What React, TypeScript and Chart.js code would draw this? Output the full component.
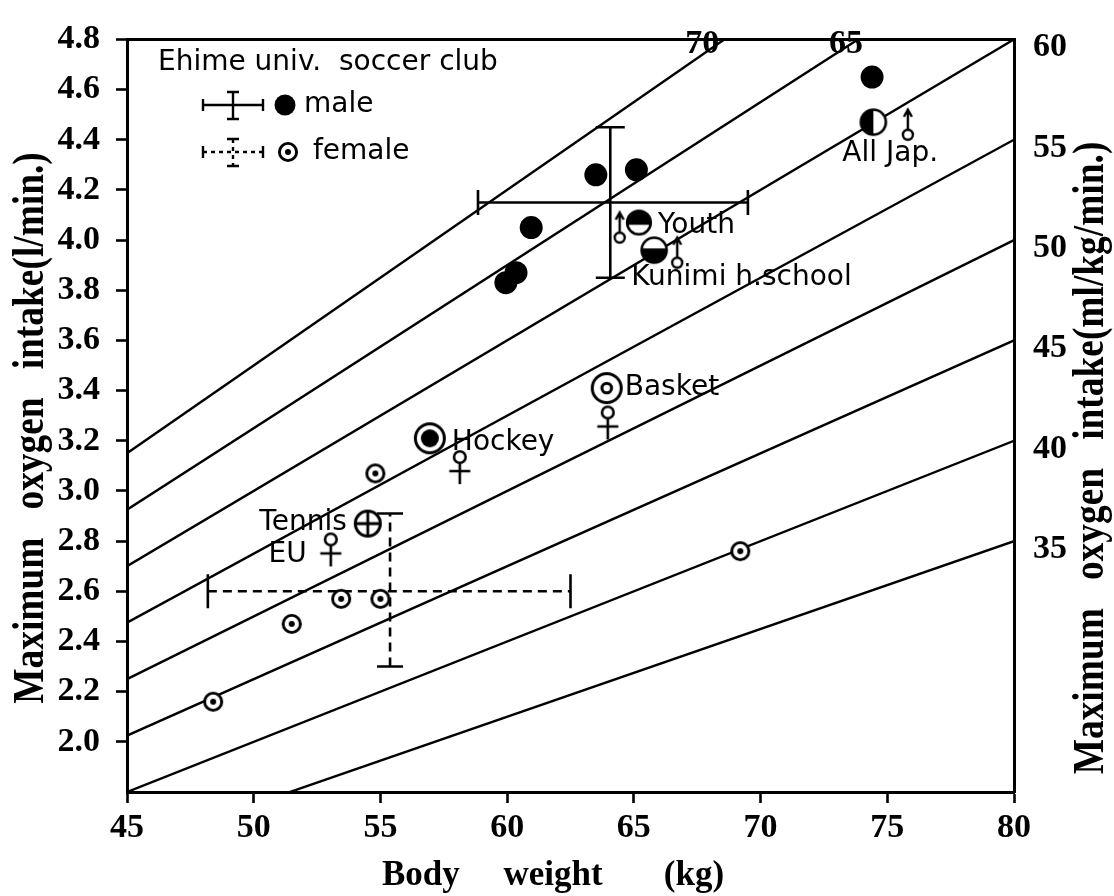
import React, { useEffect, useRef } from 'react';
import { Chart, registerables } from 'chart.js';

Chart.register(...registerables);

// ---------------- data ----------------
const weightTicks = [45, 50, 55, 60, 65, 70, 75, 80];
const vo2Ticks = [2.0, 2.2, 2.4, 2.6, 2.8, 3.0, 3.2, 3.4, 3.6, 3.8, 4.0, 4.2, 4.4, 4.6, 4.8];
const vo2Min = 1.8;
const vo2Max = 4.8;
// iso-lines of relative maximum oxygen intake (ml/kg/min)
const isoValues = [35, 40, 45, 50, 55, 60, 65, 70];
const isoTopLabels = ['70', '65'];
const relTickLabels = ['35', '40', '45', '50', '55', '60'];

// Ehime univ. soccer club
const maleWeight = [59.95, 60.35, 60.95, 63.5, 65.1, 74.4];
const maleVO2 = [3.83, 3.87, 4.05, 4.26, 4.28, 4.65];
const femaleWeight = [48.4, 51.5, 53.45, 55.0, 54.8, 69.2];
const femaleVO2 = [2.16, 2.47, 2.57, 2.57, 3.07, 2.76];

// reference groups
const groupNames = ['Youth', 'Kunimi h.school', 'All Jap.', 'Hockey', 'Basket', 'Tennis'];
const groupWeight = [65.2, 65.8, 74.45, 56.95, 63.93, 54.5];
const groupVO2 = [4.07, 3.96, 4.47, 3.21, 3.41, 2.87];

// sex signs of reference groups
const maleSignWeight = [64.44, 66.71, 75.81];
const maleSignVO2 = [4.01, 3.91, 4.42];
const femaleSignWeight = [58.13, 63.97, 53.04];
const femaleSignVO2 = [3.135, 3.313, 2.807];
const femaleSignNames = ['', '', 'EU'];

// mean ± SD
const maleMean = [64.07, 4.15];
const maleWeightRange = [58.85, 69.5];
const maleVO2Range = [3.85, 4.45];
const femaleMean = [55.38, 2.6];
const femaleWeightRange = [48.19, 62.5];
const femaleVO2Range = [2.3, 2.91];

// ---------------- layout / style ----------------
const W = 1114;
const H = 896;
const AREA = { left: 127, right: 1014, top: 31, bottom: 792 };
const SERIF = '"Liberation Serif", "DejaVu Serif", serif';
const SANS = '"DejaVu Sans", "Noto Sans", sans-serif';
const isoTopLabelShift = [-22, -12];
const groupMarker = ['halfTop', 'halfBottom', 'halfLeft', 'ringDot', 'ringRing', 'cross'];
const groupLabelOffset: [number, number, CanvasTextAlign][] = [
  [19, 3, 'left'],
  [-23, 28, 'left'],
  [-31, 32, 'left'],
  [22, 4, 'left'],
  [18, 0, 'left'],
  [-21, -1, 'right'],
];
const femaleSignLabelOffset: [number, number, CanvasTextAlign] = [-24, 15, 'right'];

function makeMarker(w: number, h: number, draw: (g: CanvasRenderingContext2D) => void) {
  const c = document.createElement('canvas');
  c.width = w;
  c.height = h;
  const g = c.getContext('2d') as CanvasRenderingContext2D;
  g.translate(w / 2, h / 2);
  g.strokeStyle = '#000';
  g.fillStyle = '#000';
  draw(g);
  return c;
}

function circle(g: CanvasRenderingContext2D, r: number, fill: string | null, lw: number) {
  g.beginPath();
  g.arc(0, 0, r, 0, Math.PI * 2);
  if (fill) {
    g.fillStyle = fill;
    g.fill();
  }
  if (lw > 0) {
    g.lineWidth = lw;
    g.strokeStyle = '#000';
    g.stroke();
  }
}

function buildMarkers() {
  const m: Record<string, HTMLCanvasElement> = {};
  m.odot = makeMarker(26, 26, (g) => {
    circle(g, 8.6, '#fff', 2.9);
    circle(g, 3, '#000', 0);
  });
  m.ringDot = makeMarker(38, 38, (g) => {
    circle(g, 14.5, '#fff', 3);
    circle(g, 9, '#000', 0);
  });
  m.ringRing = makeMarker(38, 38, (g) => {
    circle(g, 14.5, '#fff', 3);
    circle(g, 4.8, null, 3);
  });
  m.cross = makeMarker(34, 34, (g) => {
    circle(g, 12.5, '#fff', 3);
    g.beginPath();
    g.moveTo(-12.5, 0);
    g.lineTo(12.5, 0);
    g.moveTo(0, -12.5);
    g.lineTo(0, 12.5);
    g.lineWidth = 2.8;
    g.stroke();
  });
  m.halfTop = makeMarker(30, 30, (g) => {
    circle(g, 11.8, '#fff', 0);
    g.beginPath();
    g.arc(0, 0, 11.8, Math.PI - 0.2, Math.PI * 2 + 0.2);
    g.closePath();
    g.fillStyle = '#000';
    g.fill();
    circle(g, 11.8, null, 2.6);
  });
  m.halfBottom = makeMarker(32, 32, (g) => {
    circle(g, 12.5, '#fff', 0);
    g.beginPath();
    g.arc(0, 0, 12.5, -0.15, Math.PI + 0.15);
    g.closePath();
    g.fillStyle = '#000';
    g.fill();
    circle(g, 12.5, null, 2.6);
  });
  m.halfLeft = makeMarker(32, 32, (g) => {
    circle(g, 12.5, '#fff', 0);
    g.beginPath();
    g.arc(0, 0, 12.5, Math.PI * 0.5, Math.PI * 1.5);
    g.closePath();
    g.fillStyle = '#000';
    g.fill();
    circle(g, 12.5, null, 2.6);
  });
  m.female = makeMarker(26, 58, (g) => {
    circle(g, 5.8, '#fff', 2.6);
    g.beginPath();
    g.moveTo(0, 5.8);
    g.lineTo(0, 27);
    g.moveTo(-10.5, 14);
    g.lineTo(10.5, 14);
    g.lineWidth = 2.6;
    g.stroke();
  });
  m.male = makeMarker(20, 56, (g) => {
    circle(g, 5, '#fff', 2.4);
    g.beginPath();
    g.moveTo(0, -5);
    g.lineTo(0, -24);
    g.moveTo(-4, -18);
    g.lineTo(0, -25);
    g.lineTo(4, -18);
    g.lineWidth = 2.4;
    g.stroke();
  });
  return m;
}

function pts(xs: number[], ys: number[]) {
  return xs.map((x, i) => ({ x, y: ys[i] }));
}

function drawRotatedTitle(ctx: CanvasRenderingContext2D, text: string, baseX: number, cy: number) {
  ctx.save();
  ctx.translate(baseX, cy);
  ctx.rotate(-Math.PI / 2);
  ctx.scale(0.85, 1);
  ctx.font = `bold 44px ${SERIF}`;
  ctx.fillStyle = '#000';
  ctx.textAlign = 'center';
  ctx.textBaseline = 'alphabetic';
  ctx.fillText(text, 0, 0);
  ctx.restore();
}

export default function App() {
  const ref = useRef<HTMLCanvasElement | null>(null);

  useEffect(() => {
    const canvas = ref.current;
    if (!canvas) return;
    const mk = buildMarkers();
    const weightMin = weightTicks[0];
    const weightMax = weightTicks[weightTicks.length - 1];

    const lineBase = {
      showLine: true,
      borderColor: '#000',
      pointRadius: 0,
      pointHoverRadius: 0,
      fill: false,
    };

    const datasets: any[] = [];

    // markers (drawn on top: low order)
    datasets.push({
      data: pts(maleWeight, maleVO2),
      pointStyle: 'circle',
      pointRadius: 11.5,
      pointBackgroundColor: '#000',
      pointBorderColor: '#000',
      pointBorderWidth: 0,
      order: 0,
    });
    datasets.push({
      data: pts(femaleWeight, femaleVO2),
      pointStyle: mk.odot,
      pointRadius: 10,
      order: 0,
    });
    groupNames.forEach((_, i) => {
      datasets.push({
        data: [{ x: groupWeight[i], y: groupVO2[i] }],
        pointStyle: mk[groupMarker[i]],
        pointRadius: 12,
        order: 0,
      });
    });
    datasets.push({
      data: pts(maleSignWeight, maleSignVO2),
      pointStyle: mk.male,
      pointRadius: 8,
      order: 0,
    });
    datasets.push({
      data: pts(femaleSignWeight, femaleSignVO2),
      pointStyle: mk.female,
      pointRadius: 8,
      order: 0,
    });

    // male mean ± SD (solid)
    datasets.push({
      ...lineBase,
      data: [
        { x: maleWeightRange[0], y: maleMean[1] },
        { x: maleWeightRange[1], y: maleMean[1] },
      ],
      borderWidth: 2.6,
      order: 5,
    });
    datasets.push({
      ...lineBase,
      data: [
        { x: maleMean[0], y: maleVO2Range[0] },
        { x: maleMean[0], y: maleVO2Range[1] },
      ],
      borderWidth: 2.6,
      order: 5,
    });
    datasets.push({
      data: [
        { x: maleWeightRange[0], y: maleMean[1] },
        { x: maleWeightRange[1], y: maleMean[1] },
      ],
      pointStyle: 'line',
      pointRotation: 90,
      pointRadius: 12.5,
      pointBorderColor: '#000',
      pointBorderWidth: 2.6,
      order: 4,
    });
    datasets.push({
      data: [
        { x: maleMean[0], y: maleVO2Range[0] },
        { x: maleMean[0], y: maleVO2Range[1] },
      ],
      pointStyle: 'line',
      pointRotation: 0,
      pointRadius: 14.5,
      pointBorderColor: '#000',
      pointBorderWidth: 2.6,
      order: 4,
    });

    // female mean ± SD (dashed)
    datasets.push({
      ...lineBase,
      data: [
        { x: femaleWeightRange[0], y: femaleMean[1] },
        { x: femaleWeightRange[1], y: femaleMean[1] },
      ],
      borderWidth: 2.6,
      borderDash: [9, 6],
      order: 5,
    });
    datasets.push({
      ...lineBase,
      data: [
        { x: femaleMean[0], y: femaleVO2Range[0] },
        { x: femaleMean[0], y: femaleVO2Range[1] },
      ],
      borderWidth: 2.6,
      borderDash: [9, 6],
      order: 5,
    });
    datasets.push({
      data: [
        { x: femaleWeightRange[0], y: femaleMean[1] },
        { x: femaleWeightRange[1], y: femaleMean[1] },
      ],
      pointStyle: 'line',
      pointRotation: 90,
      pointRadius: 17,
      pointBorderColor: '#000',
      pointBorderWidth: 2.6,
      order: 4,
    });
    datasets.push({
      data: [
        { x: femaleMean[0], y: femaleVO2Range[0] },
        { x: femaleMean[0], y: femaleVO2Range[1] },
      ],
      pointStyle: 'line',
      pointRotation: 0,
      pointRadius: 13,
      pointBorderColor: '#000',
      pointBorderWidth: 2.6,
      order: 4,
    });

    // iso-lines
    isoValues.forEach((k) => {
      datasets.push({
        ...lineBase,
        data: [
          { x: weightMin, y: (k * weightMin) / 1000 },
          { x: weightMax, y: (k * weightMax) / 1000 },
        ],
        borderWidth: 2.4,
        clip: 0,
        order: 10,
      });
    });

    const annotate = {
      id: 'annotate',
      afterDatasetsDraw(chart: any) {
        const ctx: CanvasRenderingContext2D = chart.ctx;
        const a = chart.chartArea;
        const sx = chart.scales.x;
        const sy = chart.scales.y;
        ctx.save();
        ctx.fillStyle = '#000';
        ctx.strokeStyle = '#000';

        // top frame line
        ctx.beginPath();
        ctx.lineWidth = 3;
        ctx.moveTo(a.left, a.top);
        ctx.lineTo(a.right, a.top);
        ctx.stroke();

        // iso-line labels at top
        ctx.font = `bold 34px ${SERIF}`;
        ctx.textAlign = 'center';
        ctx.textBaseline = 'middle';
        isoTopLabels.forEach((lab, i) => {
          const k = Number(lab);
          const px = sx.getPixelForValue((vo2Max * 1000) / k);
          ctx.fillText(lab, px + isoTopLabelShift[i], a.top + 5);
        });

        // group labels
        ctx.font = `28px ${SANS}`;
        ctx.textBaseline = 'middle';
        groupNames.forEach((name, i) => {
          const px = sx.getPixelForValue(groupWeight[i]);
          const py = sy.getPixelForValue(groupVO2[i]);
          const [dx, dy, al] = groupLabelOffset[i];
          ctx.textAlign = al;
          ctx.fillText(name, px + dx, py + dy);
        });
        femaleSignNames.forEach((name, i) => {
          if (!name) return;
          const px = sx.getPixelForValue(femaleSignWeight[i]);
          const py = sy.getPixelForValue(femaleSignVO2[i]);
          const [dx, dy, al] = femaleSignLabelOffset;
          ctx.textAlign = al;
          ctx.fillText(name, px + dx, py + dy);
        });

        // legend
        ctx.textAlign = 'left';
        ctx.fillText('Ehime univ.  soccer club', 158, 63);
        const errGlyph = (cy: number, dashed: boolean) => {
          ctx.save();
          ctx.lineWidth = 2.4;
          ctx.setLineDash(dashed ? [4, 4] : []);
          ctx.beginPath();
          ctx.moveTo(203, cy);
          ctx.lineTo(263, cy);
          ctx.moveTo(233, cy - 13);
          ctx.lineTo(233, cy + 14);
          ctx.stroke();
          ctx.setLineDash([]);
          ctx.beginPath();
          ctx.moveTo(203, cy - 6);
          ctx.lineTo(203, cy + 6);
          ctx.moveTo(263, cy - 6);
          ctx.lineTo(263, cy + 6);
          ctx.moveTo(227, cy - 13);
          ctx.lineTo(239, cy - 13);
          ctx.moveTo(227, cy + 14);
          ctx.lineTo(239, cy + 14);
          ctx.stroke();
          ctx.restore();
        };
        errGlyph(105, false);
        ctx.beginPath();
        ctx.arc(285, 105, 10.5, 0, Math.PI * 2);
        ctx.fill();
        ctx.fillText('male', 304, 105);
        errGlyph(152, true);
        ctx.drawImage(mk.odot, 288 - 13, 152 - 13);
        ctx.fillText('female', 313, 152);

        // axis titles
        ctx.font = `bold 35px ${SERIF}`;
        ctx.textAlign = 'center';
        ctx.textBaseline = 'alphabetic';
        ctx.fillText('Body     weight       (kg)', 553, 885);
        drawRotatedTitle(ctx, 'Maximum   oxygen   intake(l/min.)', 43, 428);
        drawRotatedTitle(ctx, 'Maximum   oxygen   intake(ml/kg/min.)', 1103, 458);
        ctx.restore();
      },
    };

    const tickFont = { family: SERIF, size: 34, weight: 'bold' as const };

    const chart = new Chart(canvas, {
      type: 'scatter',
      data: { datasets },
      options: {
        responsive: false,
        animation: false,
        events: [],
        layout: { padding: { top: AREA.top, left: 0, right: 0, bottom: 0 } },
        plugins: {
          legend: { display: false },
          tooltip: { enabled: false },
        },
        scales: {
          x: {
            type: 'linear',
            position: 'bottom',
            min: weightMin,
            max: weightMax,
            afterBuildTicks: (s: any) => {
              s.ticks = weightTicks.map((v) => ({ value: v }));
            },
            afterFit: (s: any) => {
              s.height = H - AREA.bottom;
            },
            ticks: {
              color: '#000',
              font: tickFont,
              padding: 5,
              maxRotation: 0,
              autoSkip: false,
              callback: (v: any) => String(v),
            },
            grid: {
              display: true,
              drawOnChartArea: false,
              drawTicks: true,
              tickLength: 11,
              tickWidth: 2.6,
              tickColor: '#000',
              color: '#000',
            },
            border: { display: true, width: 3, color: '#000' },
          },
          y: {
            type: 'linear',
            position: 'left',
            min: vo2Min,
            max: vo2Max,
            afterBuildTicks: (s: any) => {
              s.ticks = vo2Ticks.map((v) => ({ value: v }));
            },
            afterFit: (s: any) => {
              s.width = AREA.left;
            },
            ticks: {
              color: '#000',
              font: tickFont,
              padding: 16,
              autoSkip: false,
              callback: (v: any) => Number(v).toFixed(1),
            },
            grid: {
              display: true,
              drawOnChartArea: false,
              drawTicks: true,
              tickLength: 11,
              tickWidth: 2.6,
              tickColor: '#000',
              color: '#000',
            },
            border: { display: true, width: 3, color: '#000' },
          },
          y2: {
            type: 'linear',
            position: 'right',
            min: vo2Min,
            max: vo2Max,
            afterBuildTicks: (s: any) => {
              s.ticks = relTickLabels.map((l) => ({ value: (Number(l) * weightMax) / 1000 }));
            },
            afterFit: (s: any) => {
              s.width = W - AREA.right;
            },
            ticks: {
              color: '#000',
              font: tickFont,
              padding: 19,
              labelOffset: 8,
              autoSkip: false,
              callback: (_v: any, i: number) => relTickLabels[i],
            },
            grid: { display: false, drawTicks: false, drawOnChartArea: false },
            border: { display: true, width: 3, color: '#000' },
          },
        },
      },
      plugins: [annotate],
    } as any);

    return () => {
      chart.destroy();
    };
  }, []);

  return (
    <div style={{ position: 'absolute', left: 0, top: 0, width: W, height: H, background: '#fff' }}>
      <canvas ref={ref} width={W} height={H} style={{ display: 'block', width: W, height: H }} />
    </div>
  );
}
